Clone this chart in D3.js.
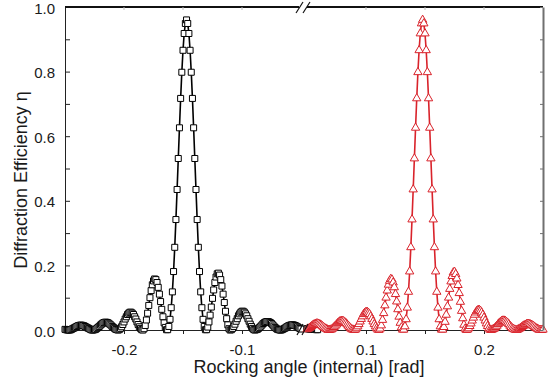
<!DOCTYPE html>
<html>
<head>
<meta charset="utf-8">
<script src="https://cdn.jsdelivr.net/npm/d3@7"></script>
<style>
  body { margin: 0; background: #fff; }
  svg { display: block; }
  text { font-family: "Liberation Sans", Arial, sans-serif; fill: #1a1a1a; }
</style>
</head>
<body>
<div id="chart"></div>
<script>
// sampling grid of the measured curves (rad)
const xStep = 0.001;

// black squares: rocking curve around -0.147 rad
const blackStart = -0.25;
const blackEta = [
  0.002, 0.001, 0, 0, 0, 0.001, 0.003, 0.005, 0.007, 0.009,
  0.011, 0.013, 0.014, 0.015, 0.015, 0.014, 0.013, 0.011, 0.009, 0.007,
  0.005, 0.003, 0.001, 0, 0, 0.001, 0.002, 0.005, 0.008, 0.011,
  0.015, 0.018, 0.021, 0.023, 0.024, 0.024, 0.023, 0.021, 0.018, 0.015,
  0.011, 0.008, 0.005, 0.002, 0.001, 0, 0.001, 0.005, 0.010, 0.017,
  0.025, 0.034, 0.041, 0.048, 0.052, 0.055, 0.055, 0.052, 0.048, 0.041,
  0.034, 0.025, 0.017, 0.010, 0.005, 0.001, 0, 0.004, 0.014, 0.031,
  0.052, 0.076, 0.100, 0.122, 0.140, 0.152, 0.158, 0.156, 0.147, 0.132,
  0.111, 0.088, 0.064, 0.041, 0.022, 0.008, 0.001, 0.001, 0.011, 0.033,
  0.069, 0.118, 0.181, 0.256, 0.342, 0.435, 0.531, 0.626, 0.717, 0.798,
  0.866, 0.918, 0.949, 0.960, 0.949, 0.918, 0.866, 0.798, 0.717, 0.626,
  0.531, 0.435, 0.342, 0.256, 0.181, 0.118, 0.069, 0.033, 0.011, 0.001,
  0.001, 0.009, 0.025, 0.046, 0.071, 0.098, 0.124, 0.147, 0.164, 0.174,
  0.176, 0.170, 0.156, 0.136, 0.111, 0.085, 0.058, 0.035, 0.016, 0.004,
  0, 0.001, 0.005, 0.011, 0.018, 0.027, 0.035, 0.044, 0.050, 0.055,
  0.058, 0.058, 0.055, 0.050, 0.044, 0.035, 0.027, 0.018, 0.011, 0.005,
  0.001, 0, 0.001, 0.002, 0.005, 0.008, 0.012, 0.016, 0.020, 0.023,
  0.025, 0.026, 0.026, 0.025, 0.023, 0.020, 0.016, 0.012, 0.008, 0.005,
  0.002, 0.001, 0, 0, 0.001, 0.003, 0.005, 0.007, 0.010, 0.012,
  0.014, 0.015, 0.016, 0.016, 0.015, 0.014, 0.012, 0.010, 0.007, 0.005,
  0.003
];
// the few black points visible just after the axis break
const blackTailStart = 0.05;
const blackTailEta = [0.004, 0.004, 0.003, 0.003, 0.003, 0.002, 0.002, 0.002, 0.001, 0.001];

// red triangles: rocking curve around +0.148 rad
const redStart = 0.05;
const redEta = [
  0.002, 0.004, 0.006, 0.009, 0.012, 0.015, 0.017, 0.019, 0.020, 0.020,
  0.019, 0.017, 0.015, 0.012, 0.009, 0.006, 0.004, 0.002, 0, 0,
  0.001, 0.002, 0.005, 0.009, 0.013, 0.017, 0.021, 0.024, 0.027, 0.028,
  0.028, 0.027, 0.024, 0.021, 0.017, 0.013, 0.009, 0.005, 0.002, 0.001,
  0, 0.001, 0.005, 0.011, 0.018, 0.026, 0.034, 0.042, 0.049, 0.053,
  0.056, 0.056, 0.053, 0.049, 0.042, 0.034, 0.026, 0.018, 0.011, 0.005,
  0.001, 0, 0.004, 0.014, 0.031, 0.052, 0.076, 0.100, 0.122, 0.140,
  0.152, 0.158, 0.156, 0.147, 0.132, 0.111, 0.088, 0.064, 0.041, 0.022,
  0.008, 0.001, 0.001, 0.011, 0.033, 0.069, 0.118, 0.181, 0.256, 0.342,
  0.435, 0.531, 0.626, 0.717, 0.798, 0.866, 0.918, 0.949, 0.960, 0.949,
  0.918, 0.866, 0.798, 0.717, 0.626, 0.531, 0.435, 0.342, 0.256, 0.181,
  0.118, 0.069, 0.033, 0.011, 0.001, 0.001, 0.009, 0.025, 0.047, 0.073,
  0.100, 0.127, 0.150, 0.167, 0.178, 0.180, 0.173, 0.159, 0.139, 0.114,
  0.087, 0.059, 0.036, 0.016, 0.004, 0, 0.001, 0.005, 0.012, 0.020,
  0.029, 0.038, 0.047, 0.054, 0.059, 0.062, 0.062, 0.059, 0.054, 0.047,
  0.038, 0.029, 0.020, 0.012, 0.005, 0.001, 0, 0.001, 0.003, 0.005,
  0.009, 0.013, 0.018, 0.022, 0.025, 0.028, 0.029, 0.029, 0.028, 0.025,
  0.022, 0.018, 0.013, 0.009, 0.005, 0.003, 0.001, 0, 0, 0.002,
  0.004, 0.006, 0.009, 0.012, 0.014, 0.016, 0.018, 0.019, 0.019, 0.018,
  0.016, 0.014, 0.012, 0.009, 0.006, 0.004, 0.002, 0, 0, 0,
  0.001
];

// axes
const leftDomain = [-0.25, -0.05];
const rightDomain = [0.05, 0.25];
const xMajorLeft = [-0.2, -0.1];
const xMinorLeft = [-0.15];
const xMajorRight = [0.1, 0.2];
const xMinorRight = [0.15];
const yMajor = [0, 0.2, 0.4, 0.6, 0.8, 1.0];
const yMinor = [0.1, 0.3, 0.5, 0.7, 0.9];
const xTitle = "Rocking angle (internal) [rad]";
const yTitle = "Diffraction Efficiency \u03b7";

const width = 548, height = 380;
const plotL = 65, plotR = 543, plotT = 7, plotB = 330;
const breakL = 301, breakR = 307;
const red = "#d9232b";

const svg = d3.select("#chart").append("svg")
  .attr("width", width).attr("height", height);

const xL = d3.scaleLinear().domain(leftDomain).range([plotL, breakL]);
const xR = d3.scaleLinear().domain(rightDomain).range([breakR, plotR]);
const y = d3.scaleLinear().domain([0, 1]).range([plotB, plotT]);

const toPoints = (start, vals) => vals.map((v, i) => ({ x: +(start + i * xStep).toFixed(4), y: v }));
const blackPts = toPoints(blackStart, blackEta);
const blackTail = toPoints(blackTailStart, blackTailEta);
const redPts = toPoints(redStart, redEta);

const fmt = d => d.toFixed(1);

// bottom axis, two segments
function bottomAxis(scale, major, minor) {
  const g = svg.append("g").attr("transform", `translate(0,${plotB})`);
  g.call(d3.axisBottom(scale).tickValues(major.concat(minor))
      .tickFormat(d => major.includes(d) ? fmt(d) : "")
      .tickSizeInner(4).tickSizeOuter(0).tickPadding(10));
  g.select(".domain").attr("stroke", "#222").attr("stroke-width", 1);
  g.selectAll(".tick line").attr("stroke", "#222");
  g.selectAll("text").attr("font-size", 15).style("fill", "#1a1a1a")
    .attr("font-family", "Liberation Sans, Arial, sans-serif");
}
bottomAxis(xL, xMajorLeft, xMinorLeft);
bottomAxis(xR, xMajorRight, xMinorRight);

// left axis, ticks pointing inward
const gy = svg.append("g").attr("transform", `translate(${plotL},0)`);
gy.call(d3.axisLeft(y).tickValues(yMajor.concat(yMinor))
    .tickFormat(d => yMajor.includes(d) ? fmt(d) : "")
    .tickSizeInner(-5).tickSizeOuter(0).tickPadding(10));
gy.select(".domain").attr("stroke", "#222").attr("stroke-width", 1);
gy.selectAll(".tick line").attr("stroke", "#222");
gy.selectAll("text").attr("font-size", 15).attr("dy", "0.4em").style("fill", "#1a1a1a")
  .attr("font-family", "Liberation Sans, Arial, sans-serif");

// top axis (with break), faint inward ticks
svg.append("line").attr("x1", plotL).attr("x2", 299).attr("y1", plotT).attr("y2", plotT)
  .attr("stroke", "#111").attr("stroke-width", 2);
svg.append("line").attr("x1", 307).attr("x2", plotR).attr("y1", plotT).attr("y2", plotT)
  .attr("stroke", "#111").attr("stroke-width", 2);
[[xL, xMajorLeft.concat(xMinorLeft)], [xR, xMajorRight.concat(xMinorRight)]].forEach(([s, t]) => {
  svg.append("g").selectAll("line").data(t).join("line")
    .attr("x1", d => s(d)).attr("x2", d => s(d))
    .attr("y1", plotT).attr("y2", plotT + 3)
    .attr("stroke", "#bbb").attr("stroke-width", 1);
});

// curves
const lineL = d3.line().x(d => xL(d.x)).y(d => y(d.y));
const lineR = d3.line().x(d => xR(d.x)).y(d => y(d.y));

svg.append("path").datum(blackPts).attr("d", lineL)
  .attr("fill", "none").attr("stroke", "#000").attr("stroke-width", 1.6);
svg.append("path").datum(blackTail).attr("d", lineR)
  .attr("fill", "none").attr("stroke", "#000").attr("stroke-width", 1.6);

const square = d3.symbol(d3.symbolSquare, 36);
svg.append("g").selectAll("path").data(blackPts).join("path")
  .attr("d", square)
  .attr("transform", d => `translate(${xL(d.x)},${y(d.y)})`)
  .attr("fill", "#fff").attr("stroke", "#000").attr("stroke-width", 1);
svg.append("g").selectAll("path").data(blackTail).join("path")
  .attr("d", square)
  .attr("transform", d => `translate(${xR(d.x)},${y(d.y)})`)
  .attr("fill", "#fff").attr("stroke", "#000").attr("stroke-width", 1);

svg.append("path").datum(redPts).attr("d", lineR)
  .attr("fill", "none").attr("stroke", red).attr("stroke-width", 1.6);
const tri = d3.symbol(d3.symbolTriangle, 30);
svg.append("g").selectAll("path").data(redPts).join("path")
  .attr("d", tri)
  .attr("transform", d => `translate(${xR(d.x)},${y(d.y)})`)
  .attr("fill", "#fff").attr("stroke", red).attr("stroke-width", 1);

// right axis (grey), ticks inward
const gr = svg.append("g").attr("transform", `translate(${plotR},0)`);
gr.call(d3.axisRight(y).tickValues(yMajor.concat(yMinor)).tickFormat("")
    .tickSizeInner(-3).tickSizeOuter(0));
gr.select(".domain").attr("stroke", "#707070").attr("stroke-width", 2);
gr.selectAll(".tick line").attr("stroke", "#707070");

// axis break marks
const breaks = svg.append("g").attr("stroke", "#111").attr("stroke-width", 1.2);
[[296, 303], [303, 310]].forEach(([a, b]) => {
  breaks.append("line").attr("x1", a).attr("y1", plotT + 6).attr("x2", b).attr("y2", plotT - 5);
});
[[297, 303], [302, 308]].forEach(([a, b]) => {
  breaks.append("line").attr("x1", a).attr("y1", plotB + 5).attr("x2", b).attr("y2", plotB - 6);
});

// titles
svg.append("text").attr("x", 309).attr("y", 373).attr("text-anchor", "middle")
  .attr("font-size", 18).text(xTitle);
svg.append("text").attr("transform", "translate(27,180) rotate(-90)")
  .attr("text-anchor", "middle").attr("font-size", 18).text(yTitle);
</script>
</body>
</html>
